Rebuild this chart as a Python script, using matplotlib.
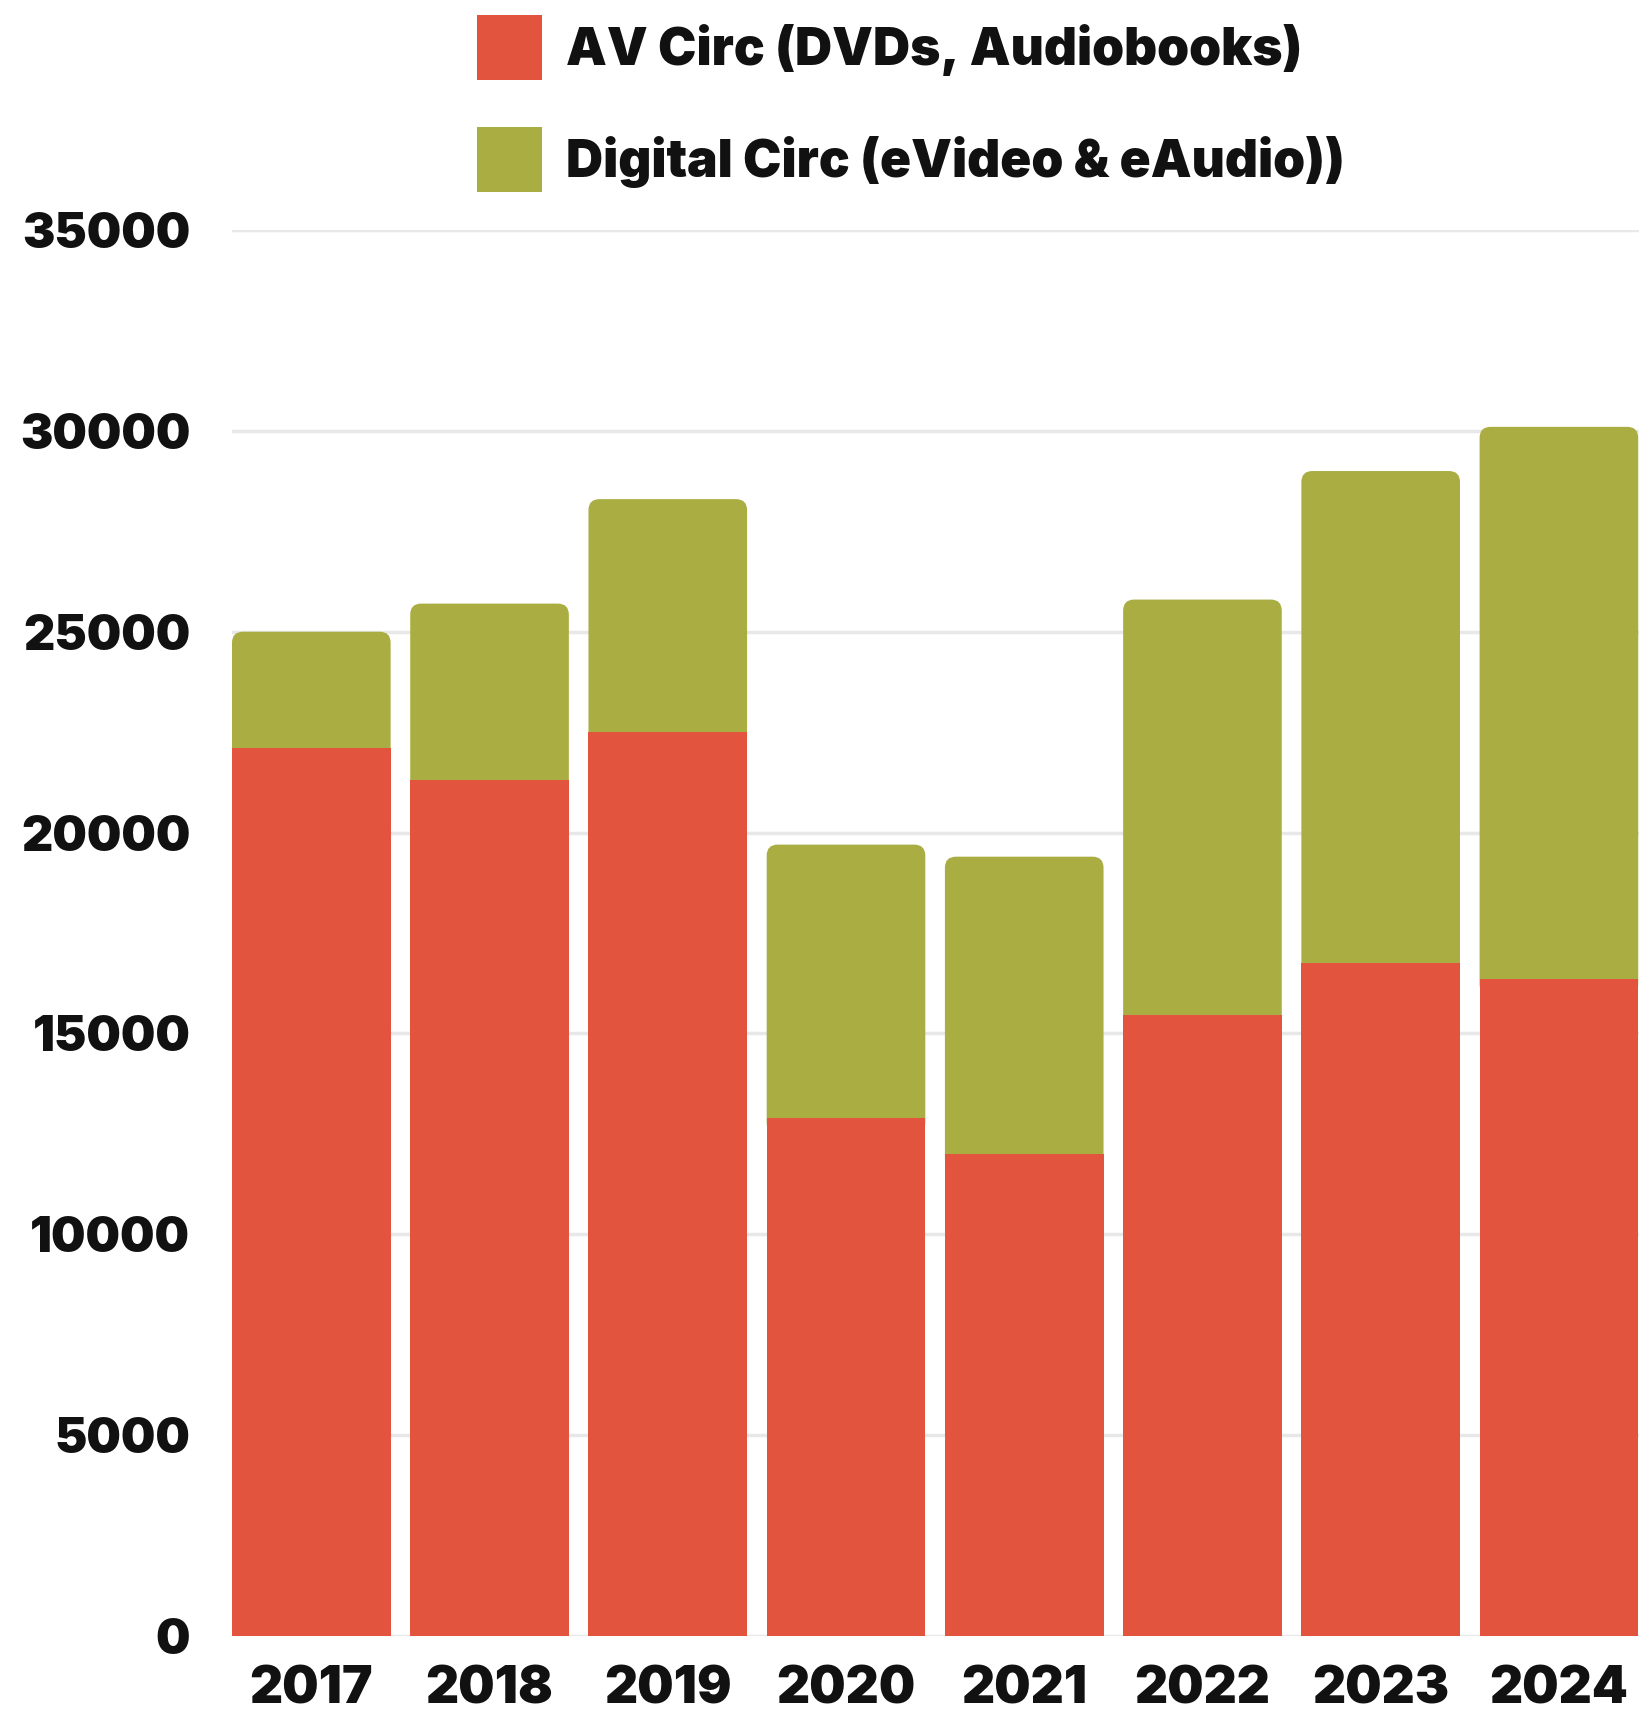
import matplotlib
matplotlib.use("Agg")
import matplotlib.pyplot as plt
from matplotlib.patches import FancyBboxPatch, Patch

years = ["2017", "2018", "2019", "2020", "2021", "2022", "2023", "2024"]
av_circ = [22100, 21300, 22500, 12900, 12000, 15450, 16750, 16350]
digital_circ = [2900, 4400, 5800, 6800, 7400, 10350, 12250, 13750]
y_ticks = [0, 5000, 10000, 15000, 20000, 25000, 30000, 35000]
labels = ["AV Circ (DVDs, Audiobooks)", "Digital Circ (eVideo & eAudio))"]

RED = "#E2543E"
OLIVE = "#A9AD42"
GRID = "#E8E8E8"

plt.rcParams["font.family"] = ["Inter", "DejaVu Sans"]

W, H = 1640, 1723
fig = plt.figure(figsize=(W / 100, H / 100), dpi=100)
ax = fig.add_axes([232 / W, 1 - 1636 / H, (W - 232) / W, (1636 - 230) / H])

x = list(range(len(years)))
width = 0.89

dig = ax.bar(x, digital_circ, width, bottom=av_circ, color=OLIVE, zorder=2)
av = ax.bar(x, av_circ, width, color=RED, zorder=3)

ax.set_xlim(-0.5 + (1 - width) / 2, len(years) - 1 + width / 2 + 0.01)
ax.set_ylim(0, 35000)

# rounded tops for the olive segments
fig.canvas.draw()
px_per_x = ax.bbox.width / (ax.get_xlim()[1] - ax.get_xlim()[0])
px_per_y = ax.bbox.height / (ax.get_ylim()[1] - ax.get_ylim()[0])
r_px = 11
for b in dig:
    bx, by, bw, bh = b.get_x(), b.get_y(), b.get_width(), b.get_height()
    ext = 400
    p = FancyBboxPatch((bx, by - ext), bw, bh + ext,
                       boxstyle=f"round,pad=0,rounding_size={r_px / px_per_x}",
                       mutation_aspect=px_per_x / px_per_y,
                       facecolor=OLIVE, edgecolor="none", zorder=2)
    ax.add_patch(p)
    b.set_visible(False)

ax.set_yticks(y_ticks)
ax.set_yticklabels([str(v) for v in y_ticks])
ax.set_xticks(x)
ax.set_xticklabels(years)
ax.grid(axis="y", color=GRID, linewidth=2.5, zorder=0)
ax.set_axisbelow(True)
for s in ax.spines.values():
    s.set_visible(False)
ax.tick_params(axis="both", length=0)
ax.tick_params(axis="y", pad=30, labelsize=35)
ax.tick_params(axis="x", pad=21, labelsize=37)
for t in ax.get_xticklabels() + ax.get_yticklabels():
    t.set_fontweight(900)
    t.set_color("#111111")

handles = [Patch(facecolor=RED, edgecolor="none"), Patch(facecolor=OLIVE, edgecolor="none")]
leg = fig.legend(handles, labels, loc="upper left",
                 bbox_to_anchor=(472 / W, 1 - 10 / H),
                 frameon=False, fontsize=37,
                 handlelength=1.27, handleheight=1.57,
                 handletextpad=0.45, labelspacing=0.92,
                 borderaxespad=0, borderpad=0.1)
for t in leg.get_texts():
    t.set_fontweight(900)
    t.set_color("#111111")

fig.savefig("out.png", dpi=100, facecolor="white")
